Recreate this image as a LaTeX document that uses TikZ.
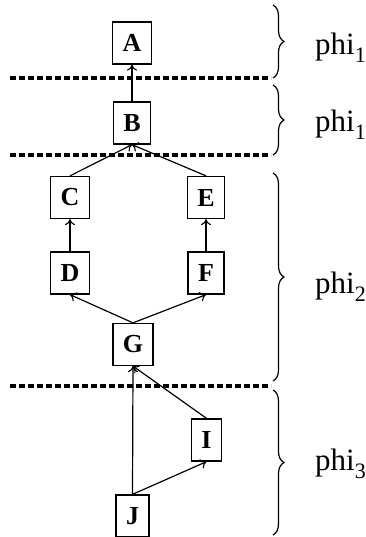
\documentclass[tikz,border=0pt]{standalone}
\usepackage{fontspec}
\setmainfont{Liberation Serif}
\usetikzlibrary{decorations.pathreplacing,arrows.meta}
\newcommand{\phisub}[1]{phi\raisebox{-8pt}{\fontsize{22}{22}\selectfont #1}}
\begin{document}
\begin{tikzpicture}[x=1pt,y=-1pt,
  box/.style={draw,line width=1.3pt,minimum height=42pt,inner xsep=10pt,inner ysep=0pt,
    font=\fontsize{26}{26}\selectfont\bfseries},
  edge/.style={line width=1.2pt,-{To[length=6pt,width=10pt,line width=1.1pt]}},
  sep/.style={line width=4pt,dash pattern=on 6pt off 3pt},
  br/.style={decorate,decoration={brace,amplitude=11pt,raise=0pt},line width=1.2pt},
  lab/.style={anchor=base west,inner sep=0pt,font=\fontsize{31}{31}\selectfont}]
\useasboundingbox (0,0) rectangle (366,537);
\begin{scope}
\clip (0,0) rectangle (366,537);
\node[box] (A) at (132,43) {A};
\node[box] (B) at (132,123) {B};
\node[box] (C) at (70,197.5) {C};
\node[box] (E) at (206,197.5) {E};
\node[box] (D) at (70,273) {D};
\node[box] (F) at (206,273) {F};
\node[box] (G) at (133,344.5) {G};
\node[box] (I) at (206.5,440) {I};
\node[box] (J) at (132.5,516) {J};
\end{scope}
\draw[edge] (B.north) -- (A.south);
\draw[edge] (C.north) -- (B.south);
\draw[edge] (E.north) -- (B.south);
\draw[edge] (D.north) -- (C.south);
\draw[edge] (F.north) -- (E.south);
\draw[edge] (G.north) -- (D.south);
\draw[edge] (G.north) -- (F.south);
\draw[edge] (J.north) -- (G.south);
\draw[edge] (J.north) -- (I.south);
\draw[edge] (I.north) -- (G.south);
\coordinate (s1a) at (10,78); \coordinate (s1b) at (271,78);
\coordinate (s2a) at (10,155); \coordinate (s2b) at (271,155);
\coordinate (s3a) at (10,386); \coordinate (s3b) at (271,386);
\draw[sep] (s1a) -- (s1b);
\draw[sep] (s2a) -- (s2b);
\draw[sep] (s3a) -- (s3b);
\coordinate (b1t) at (273,5); \coordinate (b1b) at (273,78);
\coordinate (b2t) at (273,85); \coordinate (b2b) at (273,155);
\coordinate (b3t) at (273,173); \coordinate (b3b) at (273,381);
\coordinate (b4t) at (273,390); \coordinate (b4b) at (273,535);
\draw[br] (b1t) -- (b1b);
\draw[br] (b2t) -- (b2b);
\draw[br] (b3t) -- (b3b);
\draw[br] (b4t) -- (b4b);
\node[lab] (p1) at (315,55) {\phisub{1}};
\node[lab] (p2) at (315,132) {\phisub{1}};
\node[lab] (p3) at (315,293) {\phisub{2}};
\node[lab] (p4) at (315,470) {\phisub{3}};
\end{tikzpicture}
\end{document}
